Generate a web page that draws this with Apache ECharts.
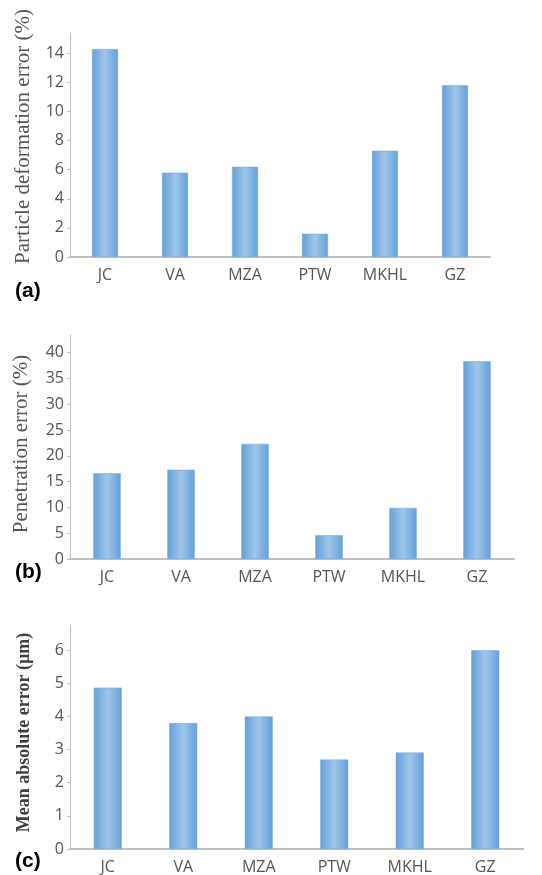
<!DOCTYPE html>
<html lang="en">
<head>
    <meta charset="UTF-8">
    <title>Error comparison</title>
    <script src="https://cdn.jsdelivr.net/npm/echarts@6/dist/echarts.min.js"></script>
    <style>
        *{margin:0;padding:0;}
        #main{width:542px;height:875px;background:#fff;}
    </style>
</head>
<body>
    <div id="main"></div>
    <script>
        // data
        var methods=['JC','VA','MZA','PTW','MKHL','GZ']
        var deformErr=[14.3,5.8,6.2,1.6,7.3,11.8]      // (a) %
        var penetrationErr=[16.6,17.3,22.3,4.6,9.9,38.3] // (b) %
        var meanAbsErr=[4.87,3.8,4.0,2.7,2.91,6.0]       // (c) µm

        var grey='#555555'
        var axisGrey='#c0c0c0'
        var barFill=new echarts.graphic.LinearGradient(0,0,1,0,[
            {offset:0,color:'#64a0da'},
            {offset:0.5,color:'#a0c5e9'},
            {offset:1,color:'#64a0da'}
        ])

        function xAx(i){
            return {
                type:'category',
                gridIndex:i,
                data:methods,
                axisTick:{show:false},
                axisLine:{lineStyle:{color:axisGrey,width:2}},
                axisLabel:{color:grey,fontSize:16,fontFamily:'Open Sans',margin:10}
            }
        }
        function yAx(i,max,step,name,gap,nameStyle){
            return {
                type:'value',
                gridIndex:i,
                min:0,
                max:max,
                interval:step,
                name:name,
                nameLocation:'middle',
                nameRotate:90,
                nameGap:gap,
                nameTextStyle:nameStyle,
                splitLine:{show:false},
                axisLine:{show:true,lineStyle:{color:axisGrey,width:1}},
                axisTick:{show:true,length:3,lineStyle:{color:axisGrey}},
                axisLabel:{color:grey,fontSize:16,fontFamily:'Open Sans',margin:6,showMaxLabel:false}
            }
        }
        function bars(i,vals){
            return {
                type:'bar',
                xAxisIndex:i,
                yAxisIndex:i,
                data:vals,
                barWidth:'37%',
                itemStyle:{color:barFill,borderColor:'#6ea6df',borderWidth:0.5}
            }
        }
        var labelFont={fontSize:21,fontWeight:'bold',fontFamily:'Liberation Sans',color:'#000'}

        var chart=echarts.init(document.getElementById('main'))
        chart.setOption({
            animation:false,
            title:[
                {text:'(a)',left:10,top:276,textStyle:labelFont},
                {text:'(b)',left:10,top:557,textStyle:labelFont},
                {text:'(c)',left:10,top:846,textStyle:labelFont}
            ],
            grid:[
                {left:70,top:33,right:52,height:224},
                {left:70,top:335,right:28,height:224},
                {left:70,top:625,right:19,height:225}
            ],
            xAxis:[xAx(0),xAx(1),xAx(2)],
            yAxis:[
                yAx(0,15.4,2,'Particle deformation error (%)',36,{color:grey,fontSize:21,fontFamily:'Liberation Serif',padding:[0,0,0,17]}),
                yAx(1,43.4,5,'Penetration error (%)',38,{color:grey,fontSize:21,fontFamily:'Liberation Serif',padding:[0,0,0,6]}),
                yAx(2,6.76,1,'Mean absolute error (\u00b5m)',37,{color:'#404040',fontSize:18,fontWeight:'bold',fontFamily:'Liberation Serif',padding:[0,0,0,9]})
            ],
            series:[bars(0,deformErr),bars(1,penetrationErr),bars(2,meanAbsErr)]
        })
    </script>
</body>
</html>
